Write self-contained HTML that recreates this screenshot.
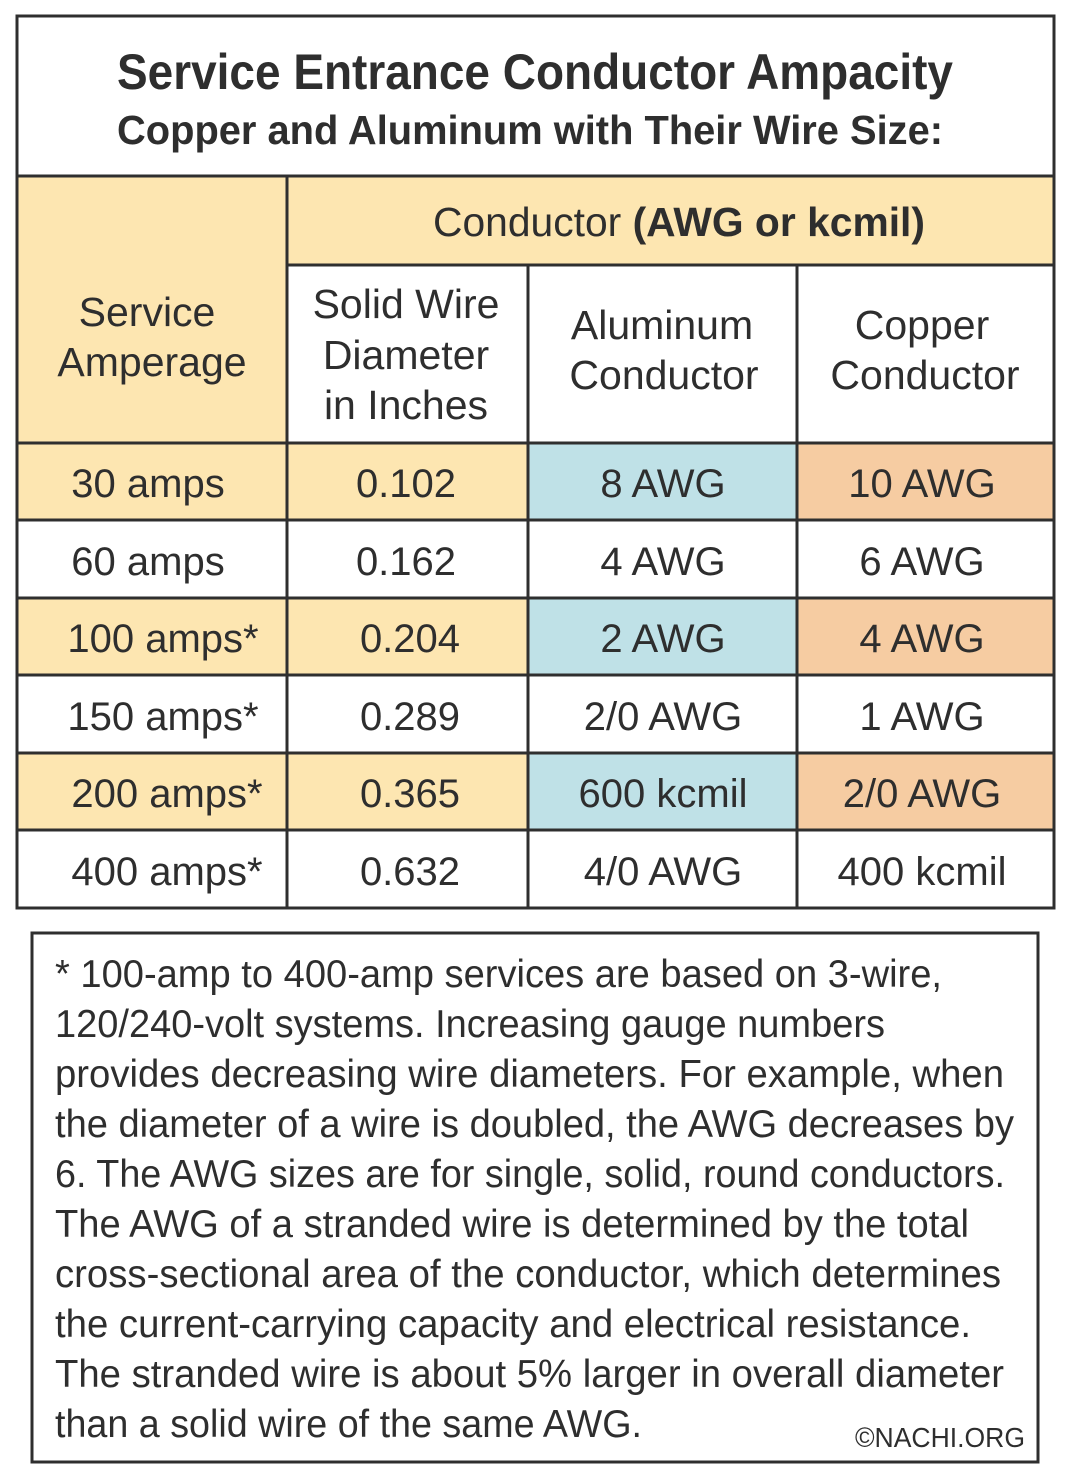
<!DOCTYPE html>
<html><head><meta charset="utf-8"><style>
html,body{margin:0;padding:0;background:#fff;}
svg{display:block;}
text{font-family:"Liberation Sans",sans-serif;fill:#2e2e2e;}
</style></head><body>
<svg width="1070" height="1479" viewBox="0 0 1070 1479" xmlns="http://www.w3.org/2000/svg">
<rect x="0" y="0" width="1070" height="1479" fill="#fff"/>
<!-- fills -->
<rect x="18" y="176" width="270" height="268" fill="#fde6b1"/>
<rect x="288" y="176" width="765" height="89" fill="#fde6b1"/>
<rect x="18" y="443" width="510" height="77" fill="#fde6b1"/>
<rect x="528" y="443" width="270" height="77" fill="#bfe1e7"/>
<rect x="798" y="443" width="255" height="77" fill="#f6cca2"/>
<rect x="18" y="598" width="510" height="77" fill="#fde6b1"/>
<rect x="528" y="598" width="270" height="77" fill="#bfe1e7"/>
<rect x="798" y="598" width="255" height="77" fill="#f6cca2"/>
<rect x="18" y="753" width="510" height="77" fill="#fde6b1"/>
<rect x="528" y="753" width="270" height="77" fill="#bfe1e7"/>
<rect x="798" y="753" width="255" height="77" fill="#f6cca2"/>
<!-- grid lines -->
<g stroke="#2f2f2f" stroke-width="3" fill="none">
<rect x="17" y="16" width="1037" height="892"/>
<line x1="17" y1="176" x2="1054" y2="176"/>
<line x1="288" y1="265" x2="1054" y2="265"/>
<line x1="17" y1="443" x2="1054" y2="443"/>
<line x1="17" y1="520" x2="1054" y2="520"/>
<line x1="17" y1="598" x2="1054" y2="598"/>
<line x1="17" y1="675" x2="1054" y2="675"/>
<line x1="17" y1="753" x2="1054" y2="753"/>
<line x1="17" y1="830" x2="1054" y2="830"/>
<line x1="287" y1="176" x2="287" y2="908"/>
<line x1="528" y1="265" x2="528" y2="908"/>
<line x1="797" y1="265" x2="797" y2="908"/>
<rect x="32" y="933" width="1006" height="529"/>
</g>
<!-- title -->
<text x="117" y="89" font-size="50" font-weight="bold" textLength="836" lengthAdjust="spacingAndGlyphs">Service Entrance Conductor Ampacity</text>
<text x="117" y="144" font-size="41" font-weight="bold" textLength="826" lengthAdjust="spacingAndGlyphs">Copper and Aluminum with Their Wire Size:</text>
<!-- headers -->
<text x="433" y="236" font-size="41" textLength="492" lengthAdjust="spacingAndGlyphs">Conductor <tspan font-weight="bold">(AWG or kcmil)</tspan></text>
<g font-size="41" text-anchor="middle">
<text x="147" y="326">Service</text>
<text x="152" y="376">Amperage</text>
<text x="406" y="318">Solid Wire</text>
<text x="406" y="369">Diameter</text>
<text x="406" y="419">in Inches</text>
<text x="662" y="339">Aluminum</text>
<text x="664" y="389">Conductor</text>
<text x="922" y="339">Copper</text>
<text x="925" y="389">Conductor</text>
</g>
<!-- data -->
<g font-size="40" text-anchor="middle">
<text x="148" y="497">30 amps</text><text x="406" y="497">0.102</text><text x="663" y="497">8 AWG</text><text x="922" y="497">10 AWG</text>
<text x="148" y="575">60 amps</text><text x="406" y="575">0.162</text><text x="663" y="575">4 AWG</text><text x="922" y="575">6 AWG</text>
<text x="163" y="652">100 amps*</text><text x="410" y="652">0.204</text><text x="663" y="652">2 AWG</text><text x="922" y="652">4 AWG</text>
<text x="163" y="730">150 amps*</text><text x="410" y="730">0.289</text><text x="663" y="730">2/0 AWG</text><text x="922" y="730">1 AWG</text>
<text x="167" y="807">200 amps*</text><text x="410" y="807">0.365</text><text x="663" y="807">600 kcmil</text><text x="922" y="807">2/0 AWG</text>
<text x="167" y="885">400 amps*</text><text x="410" y="885">0.632</text><text x="663" y="885">4/0 AWG</text><text x="922" y="885">400 kcmil</text>
</g>
<!-- footnote -->
<g font-size="39" lengthAdjust="spacingAndGlyphs">
<text x="55" y="987" textLength="887" lengthAdjust="spacingAndGlyphs">* 100-amp to 400-amp services are based on 3-wire,</text>
<text x="55" y="1037" textLength="830" lengthAdjust="spacingAndGlyphs">120/240-volt systems. Increasing gauge numbers</text>
<text x="55" y="1087" textLength="949" lengthAdjust="spacingAndGlyphs">provides decreasing wire diameters. For example, when</text>
<text x="55" y="1137" textLength="959" lengthAdjust="spacingAndGlyphs">the diameter of a wire is doubled, the AWG decreases by</text>
<text x="55" y="1187" textLength="950" lengthAdjust="spacingAndGlyphs">6. The AWG sizes are for single, solid, round conductors.</text>
<text x="55" y="1237" textLength="914" lengthAdjust="spacingAndGlyphs">The AWG of a stranded wire is determined by the total</text>
<text x="55" y="1287" textLength="946" lengthAdjust="spacingAndGlyphs">cross-sectional area of the conductor, which determines</text>
<text x="55" y="1337" textLength="916" lengthAdjust="spacingAndGlyphs">the current-carrying capacity and electrical resistance.</text>
<text x="55" y="1387" textLength="949" lengthAdjust="spacingAndGlyphs">The stranded wire is about 5% larger in overall diameter</text>
<text x="55" y="1437" textLength="587" lengthAdjust="spacingAndGlyphs">than a solid wire of the same AWG.</text>
</g>
<text x="1025" y="1447" font-size="28" text-anchor="end" textLength="170" lengthAdjust="spacingAndGlyphs">©NACHI.ORG</text>
</svg>
</body></html>
